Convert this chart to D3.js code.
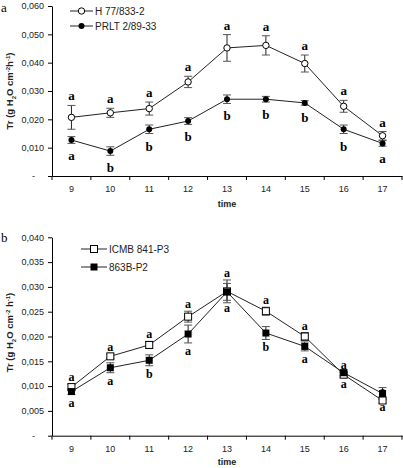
<!DOCTYPE html>
<html><head><meta charset="utf-8">
<script src="https://cdnjs.cloudflare.com/ajax/libs/d3/7.8.5/d3.min.js"></script>
<style>
body{margin:0;background:#fff;}
svg{display:block;}
text{font-family:"Liberation Sans",Arial,sans-serif;}
</style></head>
<body>
<script>
// ---- data ----
const hours = [9,10,11,12,13,14,15,16,17];

const seriesA1Name = "H 77/833-2";
const seriesA1 = [0.0207,0.0223,0.0238,0.0332,0.0452,0.0461,0.0397,0.0246,0.0142];
const seriesA1Err = [0.0042,0.0016,0.0023,0.0020,0.0047,0.0034,0.0030,0.0021,0.0015];
const seriesA1Letters = ["a","a","a","a","a","a","a","a","a"];

const seriesA2Name = "PRLT 2/89-33";
const seriesA2 = [0.0127,0.0088,0.0165,0.0194,0.0271,0.0271,0.0258,0.0165,0.0115];
const seriesA2Err = [0.0012,0.0015,0.0015,0.0012,0.0015,0.0010,0.0008,0.0015,0.0010];
const seriesA2Letters = ["a","b","b","b","b","b","b","b","a"];

const seriesB1Name = "ICMB 841-P3";
const seriesB1 = [0.0098,0.0160,0.0183,0.0240,0.0291,0.0251,0.0200,0.0123,0.0071];
const seriesB1Err = [0.0006,0.0004,0.0007,0.0011,0.0023,0.0008,0.0008,0.0005,0.0005];
const seriesB1Letters = ["a","a","a","a","a","a","a","a","a"];

const seriesB2Name = "863B-P2";
const seriesB2 = [0.0089,0.0137,0.0152,0.0205,0.0290,0.0207,0.0180,0.0127,0.0085];
const seriesB2Err = [0.0006,0.0010,0.0011,0.0018,0.0017,0.0013,0.0009,0.0006,0.0012];
const seriesB2Letters = ["a","a","b","a","a","b","a","a","a"];

const ticksA = [0,0.01,0.02,0.03,0.04,0.05,0.06];
const ticksB = [0,0.005,0.01,0.015,0.02,0.025,0.03,0.035,0.04];

// ---- drawing ----
const W = 403, H = 468;
const svg = d3.select("body").append("svg").attr("width", W).attr("height", H);

const fmt = v => v === 0 ? "-" : d3.format(".3f")(v).replace(".", ",");

function panel(cfg){
  const g = svg.append("g");
  const x = d3.scaleBand().domain(hours).range([52, 402]);
  const y = d3.scaleLinear().domain(cfg.domain).range(cfg.yRange);
  const cx = h => x(h) + x.bandwidth()/2;

  // y axis
  const ya = g.append("g").attr("transform", "translate(52,0)")
    .call(d3.axisLeft(y).tickValues(cfg.ticks).tickFormat(fmt).tickSize(4).tickSizeOuter(0).tickPadding(4));
  ya.selectAll("text").style("font-size","9px").attr("fill","#222");
  ya.selectAll("text").filter(d => d === 0).attr("dx", -9);
  ya.select(".domain").attr("stroke","#000");

  // x axis
  const xa = g.append("g").attr("transform", `translate(0,${cfg.yRange[0]})`)
    .call(d3.axisBottom(x).tickSize(0).tickPadding(10).tickSizeOuter(0));
  xa.selectAll("text").style("font-size","9px").attr("fill","#222");
  xa.select(".domain").attr("stroke","#000");
  const bounds = hours.map(h => x(h)).concat([x.range()[1]]);
  xa.selectAll(".bt").data(bounds).join("line").attr("class","bt")
    .attr("x1", d => d).attr("x2", d => d).attr("y1", 0).attr("y2", 4).attr("stroke","#000");

  // axis titles
  g.append("text").attr("x", 227).attr("y", cfg.timeY).attr("text-anchor","middle")
    .style("font-size","9px").style("font-weight","bold").attr("fill","#222").text("time");

  const ymid = (cfg.yRange[0] + cfg.yRange[1]) / 2 + cfg.labelShift;
  const yl = g.append("text").attr("transform", `translate(13,${ymid}) rotate(-90)`)
    .attr("text-anchor","middle").style("font-size","9.5px").style("font-weight","bold").attr("fill","#222");
  yl.append("tspan").text("Tr (g H");
  yl.append("tspan").attr("baseline-shift","sub").style("font-size","6px").text("2");
  yl.append("tspan").text("O cm");
  yl.append("tspan").attr("baseline-shift","super").style("font-size","6px").text("-2");
  yl.append("tspan").text(cfg.unitGap + "h");
  yl.append("tspan").attr("baseline-shift","super").style("font-size","6px").text("-1");
  yl.append("tspan").text(")");

  // panel letter
  g.append("text").attr("x", 1).attr("y", cfg.panelY)
    .style("font-family","'Liberation Serif','Times New Roman',serif").style("font-size","13px")
    .text(cfg.panelLabel);

  const line = d3.line().x((d,i) => cx(hours[i])).y(d => y(d));

  cfg.series.forEach(s => {
    g.append("path").datum(s.values).attr("d", line).attr("fill","none").attr("stroke","#222").attr("stroke-width",1);
  });

  cfg.series.forEach(s => {
    const eb = g.append("g");
    s.values.forEach((v,i) => {
      const e = s.err[i], xc = cx(hours[i]);
      eb.append("line").attr("x1",xc).attr("x2",xc).attr("y1",y(v-e)).attr("y2",y(v+e)).attr("stroke","#222");
      [v-e, v+e].forEach(t => eb.append("line").attr("x1",xc-4).attr("x2",xc+4).attr("y1",y(t)).attr("y2",y(t)).attr("stroke","#555"));
    });
  });

  cfg.series.forEach(s => {
    const mk = g.append("g");
    s.values.forEach((v,i) => drawMarker(mk, s.marker, cx(hours[i]), y(v)));
  });

  // significance letters
  cfg.series.forEach(s => {
    s.values.forEach((v,i) => {
      const e = s.err[i];
      const yy = s.above ? y(v+e) + cfg.aboveOff : y(v-e) + cfg.belowOff;
      g.append("text").attr("x", cx(hours[i])).attr("y", yy).attr("text-anchor","middle")
        .style("font-family","'Liberation Serif','Times New Roman',serif").style("font-weight","bold")
        .style("font-size", cfg.letterSize).text(s.letters[i]);
    });
  });

  // legend
  cfg.series.forEach((s,k) => {
    const ly = cfg.legY + k*cfg.legGap;
    g.append("line").attr("x1",cfg.legX1).attr("x2",cfg.legX2).attr("y1",ly).attr("y2",ly).attr("stroke","#222");
    drawMarker(g, s.marker, (cfg.legX1+cfg.legX2)/2, ly);
    g.append("text").attr("x", cfg.legX2 + 2).attr("y", ly + 3.5).style("font-size","10px").attr("fill","#222").text(s.name);
  });
}

function drawMarker(g, type, x, y){
  if (type === "oc") g.append("circle").attr("cx",x).attr("cy",y).attr("r",3.2).attr("fill","#fff").attr("stroke","#000");
  if (type === "fc") g.append("circle").attr("cx",x).attr("cy",y).attr("r",3).attr("fill","#000");
  if (type === "os") g.append("rect").attr("x",x-3.5).attr("y",y-3.5).attr("width",7).attr("height",7).attr("fill","#fff").attr("stroke","#000");
  if (type === "fs") g.append("rect").attr("x",x-3.5).attr("y",y-3.5).attr("width",7).attr("height",7).attr("fill","#000");
}

panel({
  domain:[0,0.06], yRange:[176,6], ticks:ticksA, timeY:207, panelY:12, panelLabel:"a",
  labelShift:0, unitGap:"", letterSize:"13px", aboveOff:-5, belowOff:17,
  legX1:70, legX2:93, legY:11, legGap:15,
  series:[
    {name:seriesA1Name, values:seriesA1, err:seriesA1Err, letters:seriesA1Letters, marker:"oc", above:true},
    {name:seriesA2Name, values:seriesA2, err:seriesA2Err, letters:seriesA2Letters, marker:"fc", above:false}
  ]
});

panel({
  domain:[0,0.04], yRange:[435.7,237.3], ticks:ticksB, timeY:465, panelY:242, panelLabel:"b",
  labelShift:-4, unitGap:" ", letterSize:"12px", aboveOff:-3, belowOff:12,
  legX1:81, legX2:107, legY:249, legGap:18,
  series:[
    {name:seriesB1Name, values:seriesB1, err:seriesB1Err, letters:seriesB1Letters, marker:"os", above:true},
    {name:seriesB2Name, values:seriesB2, err:seriesB2Err, letters:seriesB2Letters, marker:"fs", above:false}
  ]
});
</script>
</body></html>
